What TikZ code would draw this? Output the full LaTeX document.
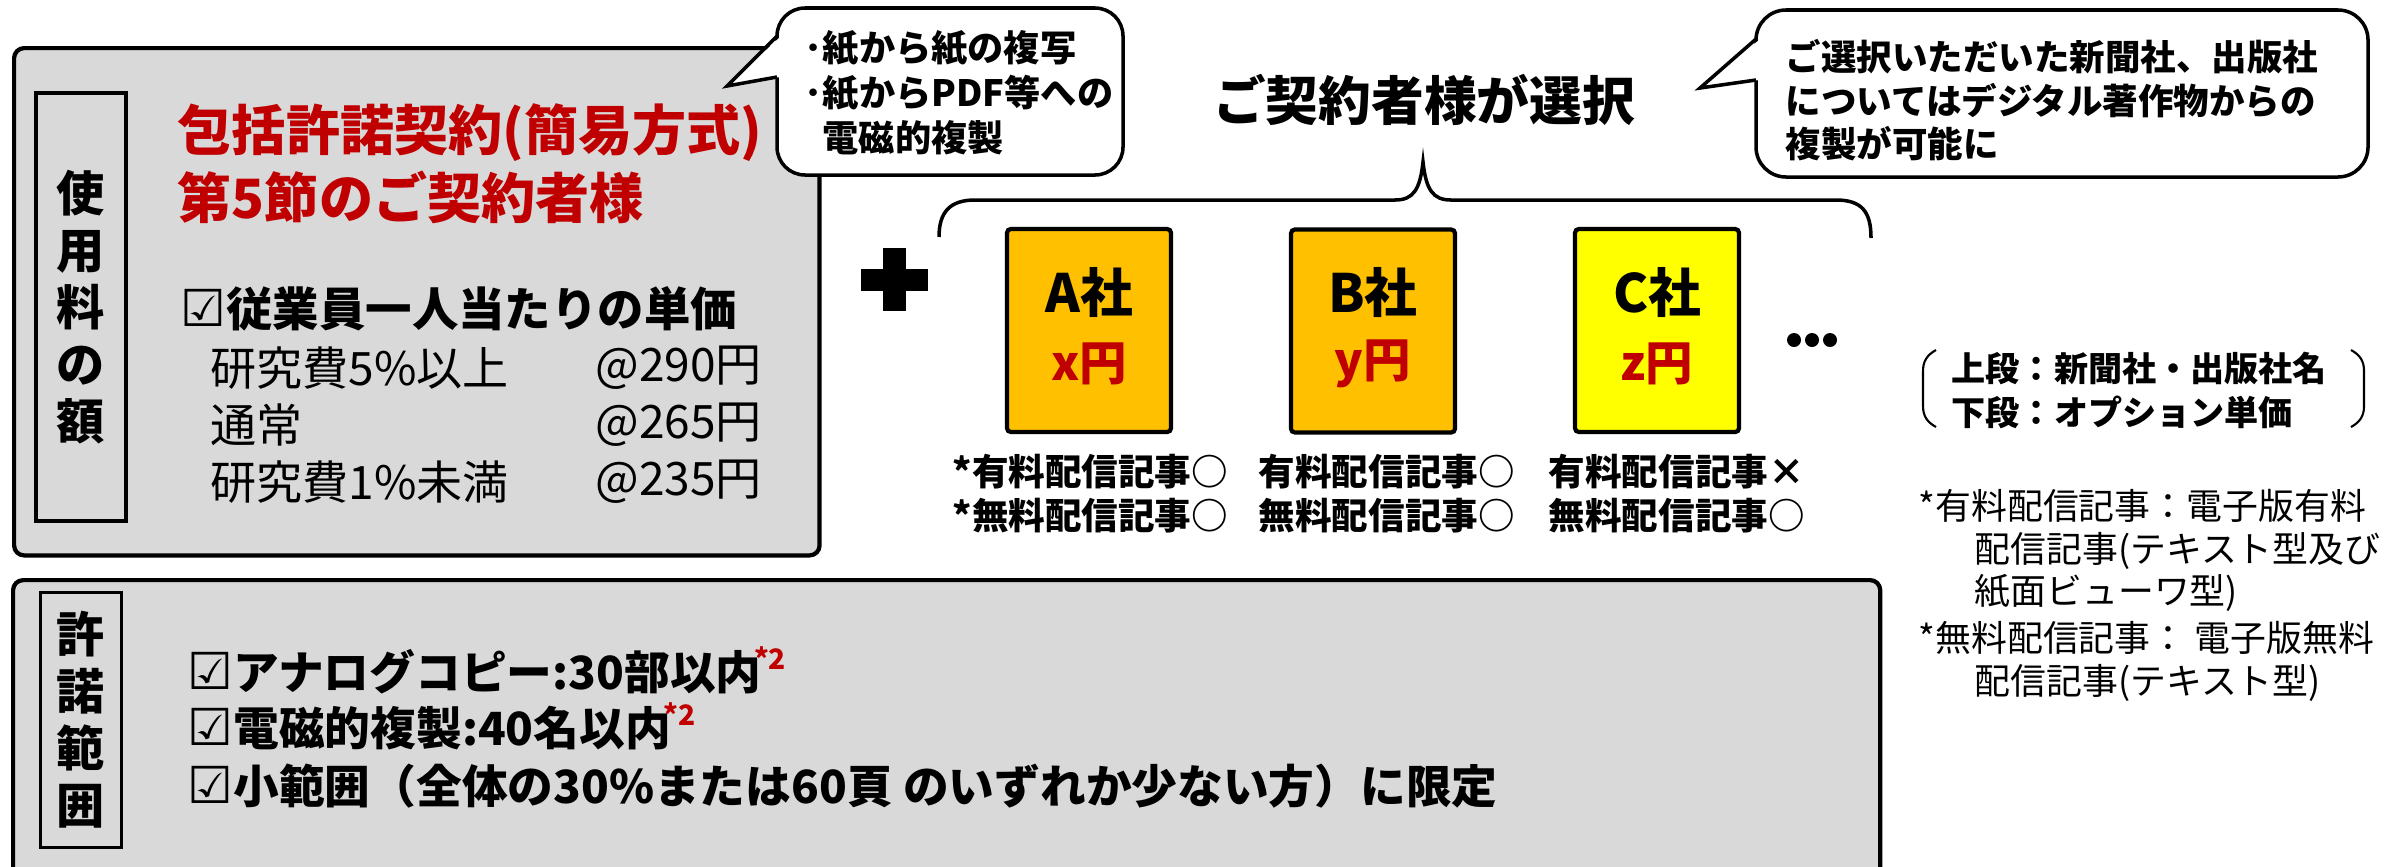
\documentclass[tikz,border=0pt]{standalone}
\usepackage{fontspec}
\setmainfont{Noto Sans CJK JP}
\newfontfamily\sym{DejaVu Sans}
\definecolor{boxgray}{HTML}{D9D9D9}
\definecolor{orng}{HTML}{FFC000}
\definecolor{yel}{HTML}{FFFF00}
\definecolor{dred}{HTML}{C00000}
\newcommand\fsz[1]{\fontsize{#1}{#1}\selectfont}
\newcommand\chk[1]{{\sym\fontsize{#1}{#1}\selectfont ☑}}
\begin{document}
\begin{tikzpicture}[x=0.01cm,y=-0.01cm]
\tikzset{
  panel/.style={draw=black, line width=1.2pt, fill=boxgray, rounded corners=0.1cm, inner sep=0pt},
  lbl/.style={draw=black, line width=1pt, fill=boxgray, inner sep=0pt, align=center, font=\bfseries\fontsize{13.7}{16.2}\selectfont},
  cbox/.style={draw=black, line width=1.2pt, rounded corners=0.04cm, inner sep=0pt, minimum width=1.64cm, minimum height=2.03cm},
  co/.style={draw=black, line width=1pt},
  txt/.style={inner sep=0pt, anchor=west},
  ctxt/.style={inner sep=0pt},
  note2/.style={inner sep=0pt, anchor=north west, text=dred, font=\bfseries\fsz{8}},
}
\useasboundingbox (0,0) rectangle (2404,866);
\fill[white] (0,0) rectangle (2404,866);

% ---------- top panel ----------
\node[panel, anchor=north west, minimum width=8.05cm, minimum height=5.07cm] (usage) at (12,46) {};
\node[lbl, minimum width=0.9cm, minimum height=4.28cm] (usagelbl) at (81,307) {使\\用\\料\\の\\額};
\node[txt, text=dred, font=\bfseries\fsz{15.4}] (title1) at (177,133) {包括許諾契約(簡易方式)};
\node[txt, text=dred, font=\bfseries\fsz{15.4}] (title2) at (177,197) {第5節のご契約者様};
\node[txt, font=\bfseries\fsz{13.2}] (unit) at (180,309) {\chk{14.5}従業員一人当たりの単価};
\node[txt, font=\fsz{13.1}] (r1) at (210,368) {研究費5\%以上};
\node[txt, font=\fsz{13.1}] (p1) at (595,368) {@290円};
\node[txt, font=\fsz{13.1}] (r2) at (210,425) {通常};
\node[txt, font=\fsz{13.1}] (p2) at (595,425) {@265円};
\node[txt, font=\fsz{13.1}] (r3) at (210,482) {研究費1\%未満};
\node[txt, font=\fsz{13.1}] (p3) at (595,482) {@235円};

% ---------- callout 1 ----------
\draw[co, fill=white, rounded corners=0.28cm] (777,8) rectangle (1123,175);
\fill[white] (780,37) -- (727,86) -- (780,77) -- cycle;
\draw[co, line join=miter] (777,36) -- (727,86) -- (777,77);
\node[txt, font=\bfseries\fsz{10.3}] (c1a) at (804,48) {･紙から紙の複写};
\node[txt, font=\bfseries\fsz{10.3}] (c1b) at (804,93) {･紙からPDF等への};
\node[txt, font=\bfseries\fsz{10.3}] (c1c) at (822,138) {電磁的複製};

% ---------- plus ----------
\fill (883,248) rectangle (906,311);
\fill (861,269) rectangle (928,291);

% ---------- heading and brace ----------
\node[ctxt, font=\bfseries\fsz{15}] (choose) at (1424,100) {ご契約者様が選択};
\draw[line width=1pt] (939,237) .. controls (939,212) and (950,200) .. (975,200) -- (1395,200)
  .. controls (1413,200) and (1420,190) .. (1423,162)
  .. controls (1426,190) and (1433,200) .. (1451,200) -- (1836,200)
  .. controls (1862,200) and (1871,212) .. (1871,238);

% ---------- companies ----------
\node[cbox, fill=orng] (A) at (1089,330.5) {};
\node[cbox, fill=orng] (B) at (1373,331) {};
\node[cbox, fill=yel] (C) at (1657,330.5) {};
\node[ctxt, font=\bfseries\fsz{15}] (An) at (1089,292) {A社};
\node[ctxt, font=\bfseries\fsz{13.5}, text=dred] (Ap) at (1089,364) {x円};
\node[ctxt, font=\bfseries\fsz{15}] (Bn) at (1373,292) {B社};
\node[ctxt, font=\bfseries\fsz{13.5}, text=dred] (Bp) at (1373,364) {y円};
\node[ctxt, font=\bfseries\fsz{15}] (Cn) at (1657,292) {C社};
\node[ctxt, font=\bfseries\fsz{13.5}, text=dred] (Cp) at (1657,364) {z円};
\fill (1794,340) circle (0.07cm);
\fill (1812,340) circle (0.07cm);
\fill (1830,340) circle (0.07cm);

\node[txt, font=\bfseries\fsz{10.4}] (a1) at (952,472) {*有料配信記事○};
\node[txt, font=\bfseries\fsz{10.4}] (a2) at (952,516) {*無料配信記事○};
\node[txt, font=\bfseries\fsz{10.4}] (b1) at (1258,472) {有料配信記事○};
\node[txt, font=\bfseries\fsz{10.4}] (b2) at (1258,516) {無料配信記事○};
\node[txt, font=\bfseries\fsz{10.4}] (d1) at (1548,472) {有料配信記事×};
\node[txt, font=\bfseries\fsz{10.4}] (d2) at (1548,516) {無料配信記事○};

% ---------- callout 2 ----------
\draw[co, fill=white, rounded corners=0.3cm] (1756,10) rectangle (2368,177);
\fill[white] (1759,40) -- (1700,88) -- (1759,80) -- cycle;
\draw[co, line join=miter] (1756,39) -- (1700,88) -- (1756,80);
\node[txt, font=\bfseries\fsz{10.1}] (c2a) at (1785,57) {ご選択いただいた新聞社、出版社};
\node[txt, font=\bfseries\fsz{10.1}] (c2b) at (1785,101) {についてはデジタル著作物からの};
\node[txt, font=\bfseries\fsz{10.1}] (c2c) at (1785,144) {複製が可能に};

% ---------- legend ----------
\draw[line width=0.6pt] (1936,350) .. controls (1927,355) and (1923,361) .. (1923,371) -- (1923,406) .. controls (1923,416) and (1927,422) .. (1936,427);
\draw[line width=0.6pt] (2351,350) .. controls (2360,355) and (2364,361) .. (2364,371) -- (2364,406) .. controls (2364,416) and (2360,422) .. (2351,427);
\node[txt, font=\bfseries\fsz{9.7}] (lg1) at (1951,368) {上段：新聞社・出版社名};
\node[txt, font=\bfseries\fsz{9.7}] (lg2) at (1951,412) {下段：オプション単価};

\node[txt, font=\fsz{10.2}] (n1) at (1918,506) {*有料配信記事：電子版有料};
\node[txt, font=\fsz{10.2}] (n2) at (1974,551) {配信記事(テキスト型及び};
\node[txt, font=\fsz{10.2}] (n3) at (1974,593) {紙面ビューワ型)};
\node[txt, font=\fsz{10.2}] (n4) at (1918,638) {*無料配信記事： 電子版無料};
\node[txt, font=\fsz{10.2}] (n5) at (1974,683) {配信記事(テキスト型)};

% ---------- bottom panel ----------
\node[panel, anchor=north west, minimum width=18.66cm, minimum height=3.1cm] (scope) at (11,578) {};
\node[lbl, minimum width=0.81cm, minimum height=2.55cm] (scopelbl) at (81,720) {許\\諾\\範\\囲};
\node[txt, font=\bfseries\fsz{13}] (s1) at (187,672) {\chk{14.5}アナログコピー:30部以内};
\node[note2] (s1n) at ([xshift=-2.5pt,yshift=1pt]s1.north east) {*2};
\node[txt, font=\bfseries\fsz{13}] (s2) at (187,728) {\chk{14.5}電磁的複製:40名以内};
\node[note2] (s2n) at ([xshift=-2.5pt,yshift=1pt]s2.north east) {*2};
\node[txt, font=\bfseries\fsz{13}] (s3) at (187,786) {\chk{14.5}小範囲（全体の30\%または60頁 のいずれか少ない方）に限定};
\end{tikzpicture}
\end{document}
